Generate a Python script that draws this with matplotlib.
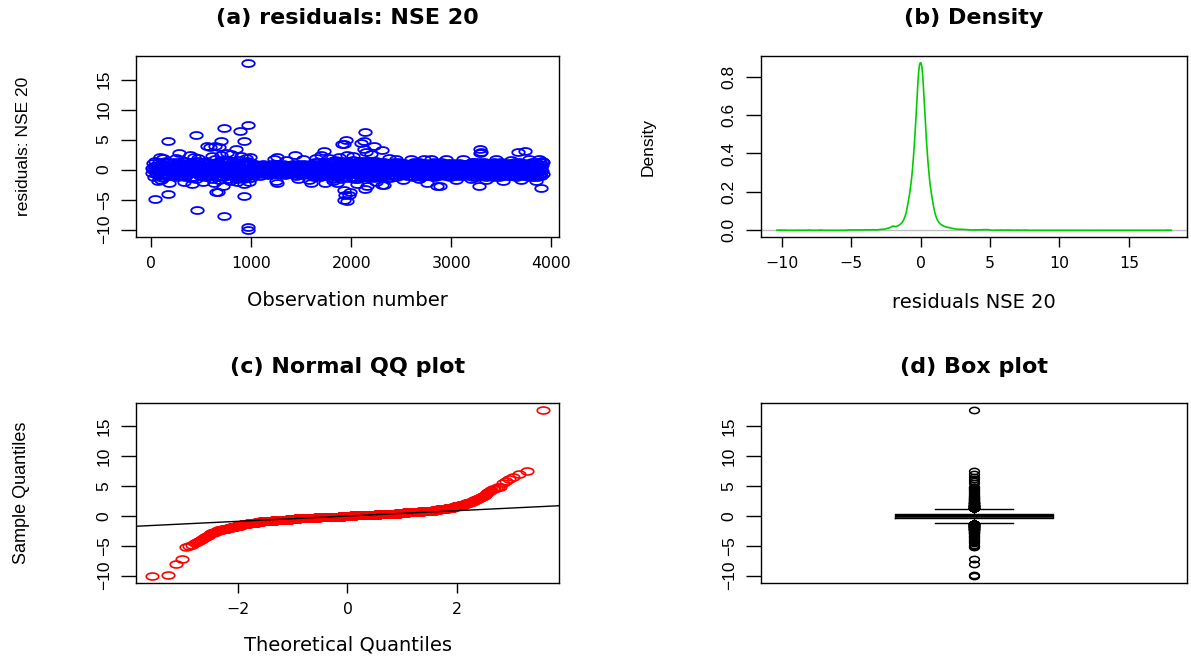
import numpy as np
import matplotlib
matplotlib.use("Agg")
import matplotlib.pyplot as plt
from matplotlib.path import Path
from statistics import NormalDist

# ---- (a) residual series, every 5th observation ----
band_step = 5
band_resid = [
    0.2, -0.5, 1.1, -0.1, 0.6, -1.2, 0.4, 1.4, -0.3, 0.0, -0.9, 0.8, 0.1, -0.6, 1.3, -0.2, 0.5, -1.0, 0.3, 0.9,
    -0.4, 0.7, -1.4, 0.2, 1.0, -0.1, 0.4, -0.8, 1.5, -0.3, 0.6, -0.7, 0.1, 1.2, -1.1, 0.3, -0.2, 0.8, -0.5, 0.0,
    -0.4, 0.6, -1.1, 0.1, 1.2, -0.2, 0.8, -0.7, 0.3, 1.0, -1.3, 0.4, -0.1, 0.7, -0.8, 1.3, 0.0, -0.5, 0.5, -1.0,
    0.2, 0.9, -0.3, 1.4, -0.6, 0.1, -1.2, 0.6, 0.3, -0.4, 1.1, -0.9, 0.2, 0.8, -0.1, -0.6, 1.0, 0.4, -1.4, 0.0,
    1.3, -0.3, 0.5, -1.2, 0.1, 1.0, -0.6, 0.2, -1.5, 0.8, 0.0, -0.4, 1.5, -0.8, 0.3, -0.1, 0.9, -1.1, 0.6, -0.2,
    0.4, -0.9, 1.2, -0.5, 0.7, 0.1, -1.3, 0.3, 1.4, -0.7, 0.5, -0.2, 1.1, -1.0, 0.2, 0.8, -0.4, 0.0, -0.8, 0.6,
    0.4, -1.5, 1.1, -0.2, 0.7, -0.8, 1.7, 0.0, -1.2, 0.5, -0.4, 1.3, -1.0, 0.2, 0.8, -1.7, 0.1, 1.0, -0.6, 1.6,
    -0.3, 0.6, -1.3, 0.9, 0.3, -0.7, 1.4, -0.1, 0.5, -1.1, 1.2, 0.2, -0.5, 0.7, -1.6, 1.5, -0.2, 0.4, -0.9, 1.0,
    -0.7, 0.3, 1.4, -1.1, 0.0, 0.8, -0.3, 1.2, -1.5, 0.5, -0.1, 0.9, -0.8, 0.2, 1.6, -1.3, 0.6, -0.2, 1.1, -0.9,
    0.4, -0.5, 1.3, -1.6, 0.1, 0.7, -0.4, 1.0, -1.2, 0.3, 1.5, -0.6, 0.2, -1.0, 0.8, -0.1, 1.2, -0.7, 0.5, -1.4,
    0.2, -0.5, 0.7, -0.3, 0.4, -0.9, 0.1, 0.9, -0.4, 0.5, -0.7, 0.3, -0.1, 0.8, -0.5, 0.4, -1.0, 0.6, 0.0, -0.6,
    0.3, -0.2, 1.0, -0.8, 0.2, 0.6, -0.3, 0.1, -0.6, 0.7, -0.1, 0.5, -0.9, 0.3, 0.8, -0.4, 0.0, 0.4, -0.7, 0.9,
    0.4, -0.3, 0.7, -0.8, 0.2, 0.5, -0.5, 0.9, -0.2, 0.1, -0.8, 0.3, 0.6, -0.6, 0.3, -0.1, 0.8, -0.7, 0.4, -0.4,
    0.0, 0.6, -0.2, 0.9, -0.5, 0.2, -0.9, 0.5, 0.1, -0.3, 0.7, -0.6, 0.3, -0.1, 0.8, -0.4, 0.5, -0.7, 0.2, 0.0,
    0.3, -0.7, 1.0, -0.2, 0.6, -0.5, 0.1, 0.8, -1.0, 0.4, -0.3, 0.7, -0.6, 0.2, 0.9, -0.4, 0.5, -0.9, 0.7, 0.0,
    -0.2, 0.5, -0.8, 0.3, 1.0, -0.5, 0.2, -0.1, 0.6, -0.7, 0.4, 0.1, -0.4, 0.8, -0.9, 0.3, -0.3, 0.6, -0.6, 0.2,
    -0.6, 1.0, -0.2, 0.7, -1.2, 0.3, 1.3, -0.8, 0.5, -0.4, 0.9, -1.1, 0.1, 1.2, -0.5, 0.6, -1.3, 0.2, 1.0, -0.9,
    0.4, -0.1, 0.8, -0.7, 0.3, 1.1, -0.3, 0.0, -1.0, 0.6, 0.2, -0.6, 1.2, -0.2, 0.5, -0.8, 0.9, -0.4, 0.3, -1.1,
    1.4, -0.7, 0.4, -1.5, 0.9, 0.1, -1.1, 1.6, -0.3, 0.6, -1.3, 1.1, -0.6, 0.3, 1.5, -1.0, 0.8, -0.2, 1.2, -1.6,
    0.5, -0.4, 1.0, -0.8, 0.2, 1.3, -1.2, 0.7, 0.0, -0.5, 1.4, -0.9, 0.3, 0.9, -1.4, 0.6, -0.1, 1.1, -0.7, 0.4,
    0.5, -1.2, 1.6, -0.4, 0.2, 1.0, -1.5, 0.7, -0.8, 1.3, -0.1, 0.4, -1.6, 0.9, 1.5, -0.6, 0.1, -1.1, 1.2, -0.3,
    0.8, -0.9, 0.3, 1.4, -1.3, 0.6, -0.2, 1.1, -0.7, 0.0, 1.5, -1.0, 0.4, -0.5, 0.9, -1.4, 0.2, 1.2, -0.4, 0.7,
    0.8, -1.0, 1.3, -0.5, 0.3, -1.4, 1.1, 0.0, -0.8, 1.4, -0.2, 0.6, -1.2, 0.9, -0.4, 1.2, -0.9, 0.4, -1.3, 0.7,
    -0.1, 1.0, -0.6, 0.2, 1.3, -1.1, 0.5, -0.3, 0.8, -0.7, 0.1, 1.1, -1.0, 0.3, -0.5, 0.9, -1.4, 0.6, 0.0, -0.2,
    -0.3, 1.1, -0.9, 0.4, 1.2, -1.1, 0.6, -0.2, 0.9, -1.2, 0.2, 1.0, -0.6, 0.5, -1.0, 1.2, -0.1, 0.7, -0.8, 0.3,
    0.0, -0.5, 0.8, -0.3, 1.1, -0.9, 0.4, 0.1, -0.7, 0.6, -1.1, 0.9, -0.2, 0.3, -0.6, 1.0, -0.4, 0.5, 0.2, -1.0,
    1.0, -0.5, 0.3, -1.2, 1.2, 0.1, -0.8, 0.8, -0.3, 1.1, -1.1, 0.5, -0.1, 0.9, -0.9, 1.2, -0.4, 0.2, -1.2, 0.6,
    -0.6, 0.4, -0.2, 1.0, -1.0, 0.7, 0.0, -0.7, 0.3, 1.1, -0.3, 0.5, -0.9, 0.2, 0.8, -1.1, 0.6, -0.4, 0.9, -0.1,
    -0.7, 0.9, 0.2, -1.1, 1.2, -0.4, 0.6, -1.2, 0.3, 1.0, -0.6, 0.1, -1.0, 1.1, 0.5, -0.2, 0.8, -0.9, 1.2, -0.5,
    0.4, -0.3, 0.7, -0.8, 0.0, 1.0, -1.1, 0.5, -0.1, 0.9, -0.6, 0.2, 1.1, -0.9, 0.3, -0.4, 0.6, -1.2, 0.8, 0.1,
    0.4, -1.0, 1.1, -0.3, 0.7, -0.8, 0.2, 1.0, -1.1, 0.5, -0.2, 0.9, -0.7, 0.1, 1.1, -0.9, 0.6, -0.4, 0.8, -1.0,
    0.3, -0.5, 0.0, 0.9, -0.6, 0.4, -1.1, 0.7, 0.2, -0.3, 1.0, -0.8, 0.5, -0.1, 0.6, -0.9, 0.3, 1.1, -0.4, 0.1,
    1.2, -0.6, 0.3, -1.3, 0.9, 1.3, -0.9, 0.5, -0.2, 1.1, -1.2, 0.7, 0.0, -0.8, 1.3, -0.4, 0.6, -1.1, 0.2, 1.0,
    -0.5, 0.4, -1.0, 0.8, -0.1, 1.2, -0.7, 0.3, 0.9, -1.3, 0.5, -0.3, 1.1, -0.9, 0.1, 0.7, -0.6, 1.0, -0.2, 0.4,
    -0.5, 0.8, -1.2, 0.4, 1.2, -0.7, 0.1, 1.0, -1.0, 0.6, -0.3, 1.1, -0.9, 0.3, 0.9, -1.2, 0.5, -0.1, 1.2, -0.6,
    0.2, -0.4, 0.7, -0.8, 1.0, 0.0, -1.1, 0.6, -0.2, 0.9, -0.7, 0.4, 1.1, -0.5, 0.3, -1.0, 0.8, -0.3, 0.5, 0.1,
    0.7, -1.1, 1.1, -0.2, 0.4, -0.9, 1.2, -0.5, 0.8, -1.2, 0.2, 1.0, -0.7, 0.5, -0.3, 1.2, -1.0, 0.6, 0.1, -0.8,
    0.3, -0.4, 0.9, -0.6, 1.1, 0.0, -1.1, 0.7, -0.1, 0.5, -0.9, 0.4, 1.0, -0.5, 0.2, -1.2, 0.8, -0.3, 0.6, 0.1,
    1.3, -0.6, 0.4, -1.3, 0.9, -0.2, 1.2, -1.0, 0.6, 0.1, -1.2, 1.1, -0.4, 0.7, -0.9, 0.3, 1.2, -0.7, 0.2, -1.1,
    0.8, -0.3, 1.3, -0.8,
]

# points lying outside the dense band: observation number and residual
out_obs = [
    40, 70, 90, 100, 120, 167, 173, 183, 250, 283, 330, 390, 413, 430, 450, 455, 470, 520,
    560, 590, 610, 627, 640, 650, 670, 680, 697, 700, 717, 733, 733, 760, 790, 800, 843,
    860, 890, 900, 923, 927, 930, 945, 963, 963, 963, 963, 980, 990,
    1230, 1250, 1261, 1261, 1350, 1440, 1466, 1520, 1580, 1596, 1650, 1700, 1726, 1733,
    1780, 1820, 1856, 1880, 1905, 1923, 1923, 1930, 1940, 1950, 1957, 1960, 1973, 1990,
    2020, 2060, 2100, 2123, 2123, 2140, 2140, 2150, 2160, 2200, 2223, 2250, 2307, 2307,
    2329, 2380, 2450, 2520, 2600, 2680, 2730, 2757, 2800, 2857, 2890, 2950, 3050, 3120,
    3200, 3280, 3290, 3290, 3300, 3350, 3450, 3520, 3600, 3668, 3700, 3740, 3780, 3847,
    3880, 3900, 3910,
]
out_resid = [
    -4.9, -1.9, 2.1, -1.8, 1.9, 4.7, -4.0, -2.2, 2.0, 2.7, -2.1, 2.4, -2.4, 2.1, 5.7, -6.8, 1.9, -2.0,
    3.9, 3.8, 2.2, -2.2, 3.9, -3.8, -3.8, 3.8, 4.7, 2.5, -2.8, 6.9, -7.8, 2.8, -1.9, 2.6, 3.4,
    -2.1, 6.4, 2.3, -4.4, -2.4, 4.7, 2.0, 17.8, 7.5, -9.6, -10.1, -2.0, 2.1,
    1.8, -1.9, 2.1, -2.2, 1.6, 2.4, -1.6, 1.7, -1.8, -2.3, 1.9, 2.5, 3.1, -2.3,
    2.0, -1.9, -2.3, 2.1, 4.2, 4.3, -5.0, -3.4, -4.2, 4.9, -5.2, 2.5, -4.3, -3.8,
    2.3, -2.4, 4.5, 4.8, 3.4, 6.3, -3.3, 3.0, -2.8, 2.6, 3.9, -2.0, 3.3, -2.6,
    -2.6, 1.9, 1.7, -1.7, 1.8, -1.6, 1.8, -2.2, 1.7, -2.8, -2.7, 1.7, -1.7, 1.8,
    -1.6, -2.8, 3.4, 2.7, 3.0, -1.8, 1.7, -1.9, 1.6, 3.0, -1.8, 3.05, 1.7, -1.9,
    1.7, -3.1, 1.5,
]

# ---- distribution of all residuals: counts in 0.1-wide bins plus the tail values ----
bin_values = [
    -2.0, -1.9, -1.8, -1.7, -1.6, -1.5, -1.4, -1.3, -1.2, -1.1, -1.0, -0.9, -0.8, -0.7,
    -0.6, -0.5, -0.4, -0.3, -0.2, -0.1, 0.0, 0.1, 0.2, 0.3, 0.4, 0.5, 0.6, 0.7, 0.8,
    0.9, 1.0, 1.1, 1.2, 1.3, 1.4, 1.5, 1.6, 1.7, 1.8, 1.9, 2.0,
]
bin_counts = [
    7, 6, 5, 6, 7, 8, 10, 12, 16, 21, 28, 41, 52, 66,
    85, 110, 141, 179, 220, 258, 250, 259, 221, 180, 142, 111, 85, 66, 52,
    41, 28, 21, 16, 12, 10, 8, 7, 6, 5, 5, 4,
]
tail_upper = [
    17.8, 7.5, 7.0, 6.5, 6.2, 5.8, 5.5, 4.9, 4.8, 4.7, 4.6, 4.5, 4.4, 4.2, 4.1, 3.9,
    3.7, 3.5, 3.4, 3.3, 3.2, 3.1, 3.0, 3.0, 2.9, 2.8, 2.8, 2.7, 2.6, 2.6, 2.5, 2.5,
    2.4, 2.4, 2.3, 2.3, 2.3, 2.2, 2.2, 2.2, 2.1, 2.1, 2.1, 2.1,
]
tail_lower = [
    -10.1, -9.8, -8.0, -7.2, -5.2, -5.0, -4.8, -4.6, -4.4, -4.2, -4.0, -3.8, -3.7, -3.5,
    -3.4, -3.3, -3.1, -3.0, -2.9, -2.8, -2.8, -2.7, -2.6, -2.6, -2.5, -2.5, -2.4, -2.4,
    -2.4, -2.3, -2.3, -2.3, -2.2, -2.2, -2.2, -2.2, -2.1, -2.1, -2.1, -2.1, -2.1,
]

x_ticks_a = [0, 1000, 2000, 3000, 4000]
x_ticks_b = [-10, -5, 0, 5, 10, 15]
x_ticks_c = [-2, 0, 2]
y_ticks_res = [-10, -5, 0, 5, 10, 15]
y_ticks_dens = [0.0, 0.2, 0.4, 0.6, 0.8]

W, H = 1191, 657
NARROW = ['Liberation Sans', 'DejaVu Sans']
plt.rcParams['font.family'] = ['DejaVu Sans']


def px_rect(left, top, right, bottom):
    return [left / W, 1 - bottom / H, (right - left) / W, (bottom - top) / H]


def r_lim(lo, hi):
    """R style axis range: data range plus 4% on each side"""
    pad = 0.04 * (hi - lo)
    return lo - pad, hi + pad


def ellipse_marker(ratio):
    t = np.linspace(0, 2 * np.pi, 61)
    return Path(np.column_stack([ratio * np.cos(t), np.sin(t)]), closed=True)


def minus(v, fmt):
    return format(v, fmt).replace('-', '\u2212')


def density_nrd0(x, n_grid=512, cut=3):
    """Gaussian kernel density with R's default bandwidth (bw.nrd0)"""
    n = len(x)
    q1, q3 = np.percentile(x, [25, 75])
    bw = 0.9 * min(np.std(x, ddof=1), (q3 - q1) / 1.34) * n ** -0.2
    grid = np.linspace(x.min() - cut * bw, x.max() + cut * bw, n_grid)
    vals, counts = np.unique(x, return_counts=True)
    z = (grid[:, None] - vals[None, :]) / bw
    dens = (np.exp(-0.5 * z ** 2) * counts).sum(axis=1) / (n * bw * np.sqrt(2 * np.pi))
    return grid, dens


def style_axes(ax, yticks, ylabels):
    for s in ax.spines.values():
        s.set_linewidth(1.0)
        s.set_color('black')
    ax.tick_params(axis='x', length=7, width=1, pad=7, labelsize=11.3)
    ax.tick_params(axis='y', length=10.5, width=1, pad=7)
    ax.set_yticks(yticks, ylabels, rotation=90, va='center',
                  fontfamily=NARROW, fontsize=12.5)


def main():
    band = np.array(band_resid)
    band_obs = np.arange(1, len(band) + 1) * band_step
    obs_all = np.concatenate([band_obs, out_obs])
    res_all = np.concatenate([band, out_resid])

    sample = np.sort(np.concatenate([np.repeat(bin_values, bin_counts),
                                     tail_lower, tail_upper]))
    n = len(sample)

    fig = plt.figure(figsize=(W / 100, H / 100), dpi=100)
    ax_a = fig.add_axes(px_rect(136, 56, 559, 237))
    ax_b = fig.add_axes(px_rect(761, 56, 1187, 237))
    ax_c = fig.add_axes(px_rect(136, 403, 559, 583))
    ax_d = fig.add_axes(px_rect(761, 403, 1187, 583))

    ell = ellipse_marker(1.8)
    ell_box = ellipse_marker(1.55)
    res_ylim = r_lim(min(res_all.min(), sample.min()), max(res_all.max(), sample.max()))
    res_labels = [minus(v, 'd') for v in y_ticks_res]

    # (a) residuals against observation number
    ax_a.plot(obs_all, res_all, ls='none', marker=ell, ms=9, mfc='none',
              mec='#0000ff', mew=1.3)
    ax_a.set_xlim(r_lim(band_obs.min(), band_obs.max()))
    ax_a.set_ylim(res_ylim)
    ax_a.set_xticks(x_ticks_a, [str(v) for v in x_ticks_a])
    style_axes(ax_a, y_ticks_res, res_labels)
    ax_a.set_title('(a) residuals: NSE 20', fontsize=16, fontweight='bold',
                   y=1 + 38 / 181, va='center', pad=0)
    ax_a.set_xlabel('Observation number', fontsize=14, va='center')
    ax_a.xaxis.set_label_coords(0.5, -63 / 181)
    ax_a.set_ylabel('residuals: NSE 20', fontsize=12.5, fontfamily=NARROW, va='center')
    ax_a.yaxis.set_label_coords(-112 / 423, 0.5)

    # (b) kernel density
    grid, dens = density_nrd0(sample)
    ax_b.axhline(0, color='#bebebe', lw=1)
    ax_b.plot(grid, dens, color='#00cd00', lw=1.2)
    ax_b.set_xlim(r_lim(grid.min(), grid.max()))
    ax_b.set_ylim(r_lim(0, dens.max()))
    ax_b.set_xticks(x_ticks_b, [minus(v, 'd') for v in x_ticks_b])
    style_axes(ax_b, y_ticks_dens, [f'{v:.1f}' for v in y_ticks_dens])
    ax_b.set_title('(b) Density', fontsize=16, fontweight='bold',
                   y=1 + 38 / 181, va='center', pad=0)
    ax_b.set_xlabel('residuals NSE 20', fontsize=14, va='center')
    ax_b.xaxis.set_label_coords(0.5, -65 / 181)
    ax_b.set_ylabel('Density', fontsize=12.5, fontfamily=NARROW, va='center')
    ax_b.yaxis.set_label_coords(-113 / 426, 0.5)

    # (c) normal QQ plot with the line through the quartiles
    nd = NormalDist()
    theo = np.array([nd.inv_cdf((i - 0.5) / n) for i in range(1, n + 1)])
    q1, q3 = np.percentile(sample, [25, 75])
    z1, z3 = nd.inv_cdf(0.25), nd.inv_cdf(0.75)
    slope = (q3 - q1) / (z3 - z1)
    intercept = q1 - slope * z1
    ax_c.plot(theo, sample, ls='none', marker=ell, ms=9, mfc='none',
              mec='#ff0000', mew=1.2)
    ax_c.axline((0, intercept), slope=slope, color='black', lw=1)
    ax_c.set_xlim(r_lim(theo.min(), theo.max()))
    ax_c.set_ylim(res_ylim)
    ax_c.set_xticks(x_ticks_c, [minus(v, 'd') for v in x_ticks_c])
    style_axes(ax_c, y_ticks_res, res_labels)
    ax_c.set_title('(c) Normal QQ plot', fontsize=16, fontweight='bold',
                   y=1 + 36 / 180, va='center', pad=0)
    ax_c.set_xlabel('Theoretical Quantiles', fontsize=14, va='center')
    ax_c.xaxis.set_label_coords(0.5, -62 / 180)
    ax_c.set_ylabel('Sample Quantiles', fontsize=13, fontfamily=NARROW, va='center')
    ax_c.yaxis.set_label_coords(-114 / 423, 0.5)

    # (d) box plot
    ax_d.boxplot(sample, positions=[1], widths=0.4, whis=1.5, capwidths=0.2,
                 boxprops=dict(color='black', linewidth=1),
                 medianprops=dict(color='black', linewidth=2.6),
                 whiskerprops=dict(color='black', linewidth=1, linestyle='--'),
                 capprops=dict(color='black', linewidth=1),
                 flierprops=dict(marker=ell_box, markerfacecolor='none',
                                 markeredgecolor='black', markersize=7,
                                 markeredgewidth=1.1))
    ax_d.set_xlim(r_lim(0.5, 1.5))
    ax_d.set_ylim(res_ylim)
    ax_d.set_xticks([])
    style_axes(ax_d, y_ticks_res, res_labels)
    ax_d.set_title('(d) Box plot', fontsize=16, fontweight='bold',
                   y=1 + 36 / 180, va='center', pad=0)

    fig.savefig('out.png', dpi=100)


if __name__ == '__main__':
    main()
